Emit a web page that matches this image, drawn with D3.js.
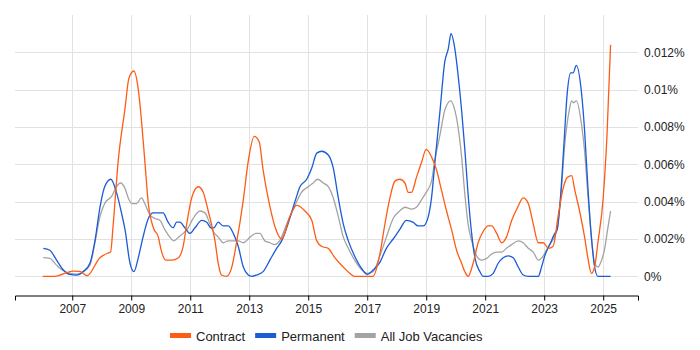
<!DOCTYPE html>
<html>
<head>
<meta charset="utf-8">
<script src="https://cdn.jsdelivr.net/npm/d3@7"></script>
<style>
    body { margin: 0; background: #fff; }
    text { font-family: "Liberation Sans", Arial, sans-serif; fill: #222; }
</style>
</head>
<body>
<div id="chartArea"></div>
<script>
// Data: [year, % of job ads]
const contract = [
    [2006.0, 0], [2006.4, 0], [2007.03, 0.00028], [2007.26, 0.00027], [2007.5, 0.00003],
    [2007.94, 0.001], [2008.2, 0.00124], [2008.3, 0.0013], [2008.39, 0.0028], [2008.56, 0.0062],
    [2008.79, 0.009], [2008.92, 0.0106], [2009.09, 0.011], [2009.24, 0.01], [2009.35, 0.0083],
    [2009.46, 0.0062], [2009.58, 0.0039], [2009.75, 0.0026], [2009.92, 0.0021], [2010.0, 0.0015],
    [2010.17, 0.00087], [2010.37, 0.00087], [2010.6, 0.001], [2010.76, 0.0016], [2010.88, 0.0028],
    [2011.05, 0.0042], [2011.27, 0.0048], [2011.44, 0.0045], [2011.61, 0.0035], [2011.84, 0.0019],
    [2011.95, 0.0007], [2012.06, 0.00007], [2012.23, 0], [2012.4, 0.00044], [2012.57, 0.0018],
    [2012.8, 0.0041], [2012.97, 0.0062], [2013.17, 0.0075], [2013.34, 0.0072], [2013.47, 0.0057],
    [2013.68, 0.0039], [2013.93, 0.0024], [2014.1, 0.002], [2014.38, 0.0032], [2014.6, 0.0038],
    [2014.89, 0.0035], [2015.12, 0.003], [2015.29, 0.0019], [2015.46, 0.0016], [2015.68, 0.0015],
    [2015.9, 0.001], [2016.19, 0.0005], [2016.41, 0.00016], [2016.58, 0], [2017.2, 0],
    [2017.43, 0.0012], [2017.6, 0.0028], [2017.77, 0.0042], [2017.94, 0.0051], [2018.1, 0.0052],
    [2018.28, 0.005], [2018.39, 0.0045], [2018.5, 0.0045], [2018.67, 0.0053], [2018.84, 0.0061],
    [2019.0, 0.0068], [2019.18, 0.0064], [2019.35, 0.0057], [2019.52, 0.0046], [2019.69, 0.0035],
    [2019.86, 0.0025], [2020.03, 0.0014], [2020.2, 0.0007], [2020.31, 0.00025], [2020.42, 0],
    [2020.59, 0.0007], [2020.76, 0.0018], [2020.93, 0.0024], [2021.1, 0.0027], [2021.22, 0.0027],
    [2021.39, 0.0023], [2021.56, 0.0018], [2021.72, 0.0021], [2021.9, 0.003], [2022.1, 0.0037],
    [2022.29, 0.0042], [2022.46, 0.0039], [2022.63, 0.0028], [2022.8, 0.0018], [2022.97, 0.0018],
    [2023.14, 0.0015], [2023.3, 0.0016], [2023.47, 0.0032], [2023.64, 0.0047], [2023.78, 0.0053],
    [2023.93, 0.0054], [2024.04, 0.0046], [2024.2, 0.0035], [2024.37, 0.0021], [2024.48, 0.001],
    [2024.6, 0.00016], [2024.71, 0.0005], [2024.82, 0.0018], [2025.0, 0.0042], [2025.13, 0.0076],
    [2025.25, 0.0124]
];

const permanent = [
    [2006.02, 0.0015], [2006.24, 0.0014], [2006.47, 0.00087], [2006.7, 0.00034], [2006.92, 0.0001],
    [2007.15, 0.00007], [2007.37, 0.00025], [2007.6, 0.0007], [2007.77, 0.0019], [2007.94, 0.0037],
    [2008.1, 0.0048], [2008.31, 0.0052], [2008.5, 0.0045], [2008.67, 0.0034], [2008.79, 0.0025],
    [2008.96, 0.0007], [2009.09, 0.00025], [2009.24, 0.001], [2009.4, 0.0021], [2009.58, 0.0031],
    [2009.75, 0.0034], [2009.92, 0.0034], [2010.08, 0.0034], [2010.25, 0.0029], [2010.42, 0.0026],
    [2010.54, 0.0029], [2010.65, 0.0029], [2010.82, 0.0026], [2010.99, 0.0023], [2011.16, 0.0026],
    [2011.39, 0.003], [2011.56, 0.0029], [2011.7, 0.0026], [2011.8, 0.0026], [2011.95, 0.0029],
    [2012.12, 0.0027], [2012.29, 0.0027], [2012.46, 0.0023], [2012.63, 0.0016], [2012.8, 0.0005],
    [2012.97, 0.00007], [2013.08, 0], [2013.25, 0.00007], [2013.47, 0.00025], [2013.7, 0.00087],
    [2013.93, 0.0015], [2014.1, 0.0019], [2014.27, 0.0026], [2014.55, 0.004], [2014.72, 0.0048],
    [2014.95, 0.0052], [2015.12, 0.0058], [2015.29, 0.0066], [2015.46, 0.0067], [2015.68, 0.0065],
    [2015.85, 0.0058], [2016.02, 0.0042], [2016.19, 0.0028], [2016.36, 0.0019], [2016.6, 0.001],
    [2016.82, 0.0004], [2017.0, 0.0001], [2017.2, 0.00034], [2017.43, 0.00075], [2017.65, 0.0015],
    [2017.88, 0.002], [2018.1, 0.0025], [2018.33, 0.003], [2018.55, 0.0029], [2018.73, 0.0027],
    [2018.9, 0.0027], [2019.07, 0.0032], [2019.18, 0.0042], [2019.3, 0.0062], [2019.47, 0.0089],
    [2019.63, 0.0115], [2019.75, 0.0122], [2019.84, 0.013], [2019.97, 0.0122], [2020.08, 0.0108],
    [2020.2, 0.0089], [2020.31, 0.0068], [2020.42, 0.0044], [2020.54, 0.0023], [2020.65, 0.001],
    [2020.82, 0.00025], [2020.93, 0], [2021.1, 0], [2021.27, 0.00016], [2021.44, 0.0007],
    [2021.61, 0.001], [2021.78, 0.0011], [2021.95, 0.001], [2022.12, 0.0005], [2022.29, 0.00007],
    [2022.46, 0], [2022.8, 0], [2022.91, 0.0005], [2023.02, 0.0011], [2023.19, 0.0017],
    [2023.36, 0.0023], [2023.44, 0.0025], [2023.56, 0.0044], [2023.67, 0.0071], [2023.78, 0.0098],
    [2023.9, 0.0109], [2023.98, 0.0109], [2024.09, 0.0113], [2024.26, 0.0099], [2024.37, 0.0078],
    [2024.48, 0.0048], [2024.6, 0.0021], [2024.71, 0.0005], [2024.82, 0], [2025.25, 0]
];

const allJobs = [
    [2006.02, 0.001], [2006.24, 0.00096], [2006.47, 0.0006], [2006.7, 0.0003], [2006.92, 0.00016],
    [2007.15, 0.00012], [2007.37, 0.00025], [2007.6, 0.0006], [2007.77, 0.0018], [2007.94, 0.0032],
    [2008.1, 0.0039], [2008.34, 0.0043], [2008.5, 0.0048], [2008.64, 0.005], [2008.79, 0.0047],
    [2008.9, 0.0042], [2009.03, 0.0039], [2009.18, 0.0039], [2009.35, 0.0042], [2009.46, 0.0039],
    [2009.63, 0.0033], [2009.8, 0.0031], [2009.97, 0.003], [2010.14, 0.0025], [2010.31, 0.0021],
    [2010.45, 0.0019], [2010.6, 0.0021], [2010.76, 0.0023], [2010.93, 0.0026], [2011.1, 0.0031],
    [2011.33, 0.0035], [2011.5, 0.0034], [2011.67, 0.0028], [2011.78, 0.0024], [2011.95, 0.0021],
    [2012.12, 0.0018], [2012.29, 0.0019], [2012.46, 0.0019], [2012.63, 0.0019], [2012.8, 0.0018],
    [2013.03, 0.0021], [2013.23, 0.0023], [2013.36, 0.0023], [2013.53, 0.0019], [2013.7, 0.0018],
    [2013.86, 0.0017], [2014.03, 0.0019], [2014.27, 0.0028], [2014.55, 0.0038], [2014.77, 0.0045],
    [2015.0, 0.0048], [2015.17, 0.005], [2015.32, 0.0052], [2015.51, 0.005], [2015.68, 0.0048],
    [2015.85, 0.0042], [2016.02, 0.0032], [2016.19, 0.0021], [2016.36, 0.0015], [2016.6, 0.0008],
    [2016.82, 0.00034], [2017.0, 0.00016], [2017.2, 0.00025], [2017.43, 0.0011], [2017.65, 0.0021],
    [2017.88, 0.0031], [2018.1, 0.0035], [2018.28, 0.0037], [2018.5, 0.0036], [2018.67, 0.0037],
    [2018.84, 0.0041], [2019.0, 0.0045], [2019.18, 0.0051], [2019.3, 0.0063], [2019.47, 0.0076],
    [2019.63, 0.0089], [2019.83, 0.0094], [2019.97, 0.0089], [2020.08, 0.008], [2020.2, 0.0064],
    [2020.31, 0.0044], [2020.42, 0.0028], [2020.56, 0.0018], [2020.71, 0.0011], [2020.88, 0.00087],
    [2021.05, 0.00096], [2021.22, 0.0012], [2021.39, 0.0013], [2021.56, 0.0013], [2021.72, 0.0015],
    [2021.9, 0.0017], [2022.12, 0.0019], [2022.29, 0.0018], [2022.46, 0.0015], [2022.63, 0.0013],
    [2022.8, 0.00087], [2022.97, 0.0011], [2023.14, 0.0016], [2023.42, 0.0024], [2023.56, 0.0042],
    [2023.7, 0.0071], [2023.85, 0.0089], [2023.93, 0.0094], [2024.0, 0.0093], [2024.09, 0.0094],
    [2024.26, 0.0082], [2024.37, 0.0067], [2024.48, 0.0044], [2024.6, 0.0021], [2024.71, 0.0007],
    [2024.82, 0.0005], [2024.93, 0.0008], [2025.04, 0.0014], [2025.15, 0.0025], [2025.25, 0.0035]
];

const yearTicks = [2007, 2009, 2011, 2013, 2015, 2017, 2019, 2021, 2023, 2025];
const pctTicks = [0, 0.002, 0.004, 0.006, 0.008, 0.01, 0.012];

const series = [
    { name: "Contract", values: contract, color: "#ff5b14" },
    { name: "Permanent", values: permanent, color: "#1a5bd8" },
    { name: "All Job Vacancies", values: allJobs, color: "#a3a3a3" }
];

// Size
const width = 700,
    height = 350,
    plot = { left: 15, right: 638, top: 15, bottom: 295 };

const x = d3.scaleLinear()
    .domain([2005.06, 2026.18])
    .range([plot.left, plot.right]);

const y = d3.scaleLinear()
    .domain([-0.001, 0.014])
    .range([plot.bottom, plot.top]);

const svg = d3.select("#chartArea")
    .append("svg")
    .attr("width", width)
    .attr("height", height);

// Grid
const grid = svg.append("g").attr("stroke", "#e2e2e2").attr("stroke-width", 1);

grid.selectAll("line.v")
    .data(yearTicks)
    .join("line")
    .attr("class", "v")
    .attr("x1", d => Math.round(x(d)) + 0.5)
    .attr("x2", d => Math.round(x(d)) + 0.5)
    .attr("y1", plot.top)
    .attr("y2", plot.bottom);

grid.selectAll("line.h")
    .data(pctTicks)
    .join("line")
    .attr("class", "h")
    .attr("x1", plot.left)
    .attr("x2", plot.right)
    .attr("y1", d => Math.round(y(d)) + 0.5)
    .attr("y2", d => Math.round(y(d)) + 0.5);

// Y axis labels on the right
const yAxis = svg.append("g")
    .attr("transform", `translate(${plot.right},0)`)
    .call(d3.axisRight(y)
        .tickValues(pctTicks)
        .tickSize(0)
        .tickPadding(6)
        .tickFormat(d => d + "%"));
yAxis.select(".domain").remove();
yAxis.selectAll("text").style("font-size", "12px").attr("fill", "#222");

// X axis
const xAxis = svg.append("g")
    .attr("transform", `translate(0,${plot.bottom + 0.5})`)
    .call(d3.axisBottom(x)
        .tickValues(yearTicks)
        .tickSizeOuter(0)
        .tickSize(5)
        .tickPadding(4)
        .tickFormat(d3.format("d")));
xAxis.selectAll("line").attr("stroke", "#000");
xAxis.select(".domain").attr("stroke", "#000");
xAxis.selectAll("text").style("font-size", "12px").attr("fill", "#222");

// Lines
const line = d3.line()
    .x(d => x(d[0]))
    .y(d => y(d[1]))
    .curve(d3.curveMonotoneX);

svg.append("g")
    .selectAll("path")
    .data(series.slice().reverse())
    .join("path")
    .attr("fill", "none")
    .attr("stroke", d => d.color)
    .attr("stroke-width", 1.3)
    .attr("d", d => line(d.values));

// Legend
const legend = svg.append("g").attr("id", "legend");
let lx = 0;
series.forEach(s => {
    const item = legend.append("g").attr("transform", `translate(${lx},0)`);
    item.append("rect")
        .attr("x", 0)
        .attr("y", -3)
        .attr("width", 21)
        .attr("height", 5)
        .attr("fill", s.color);
    const t = item.append("text")
        .attr("x", 26)
        .attr("y", 5)
        .style("font-size", "13px")
        .text(s.name);
    lx += 26 + t.node().getComputedTextLength() + 10;
});
const legendWidth = lx - 10;
legend.attr("transform", `translate(${Math.round((plot.left + plot.right) / 2 - legendWidth / 2)},336)`);
</script>
</body>
</html>
